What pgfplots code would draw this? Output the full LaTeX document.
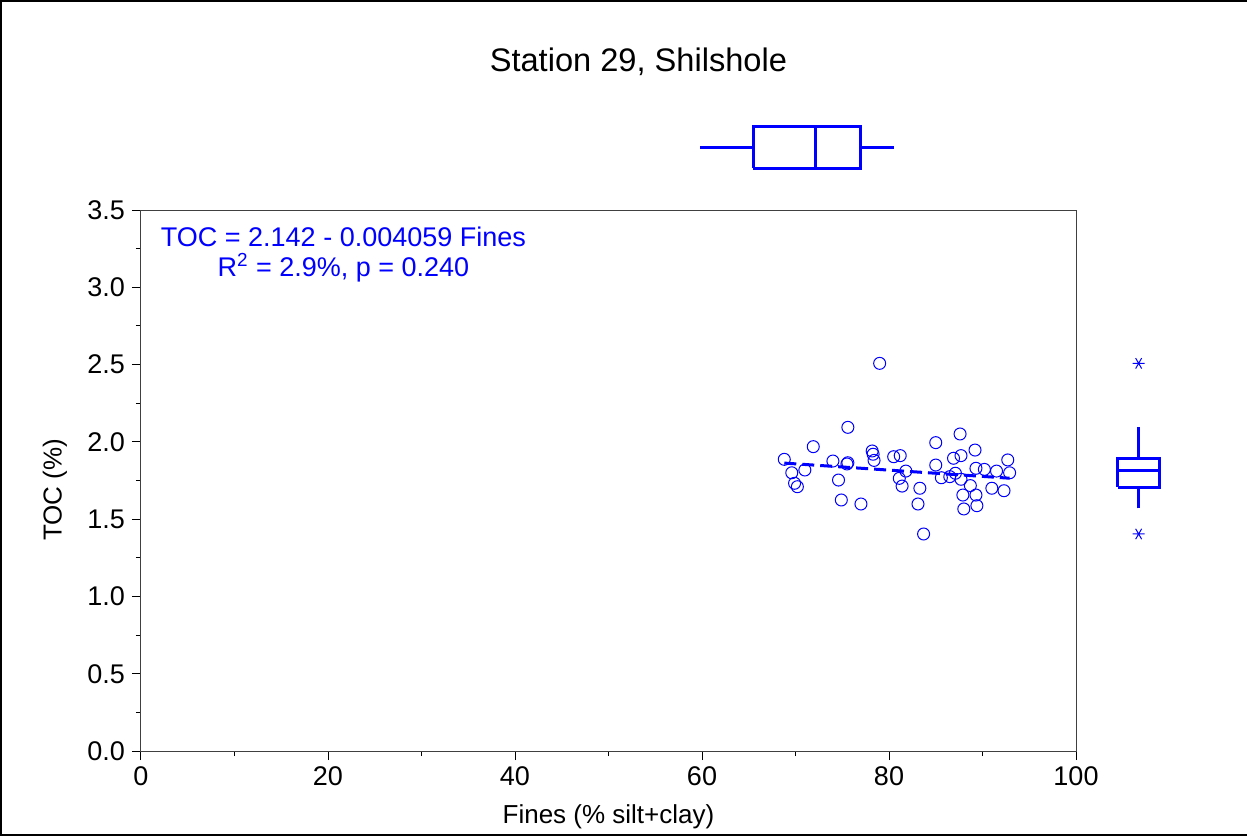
\documentclass[border=0pt]{standalone}
\usepackage{fontspec}
\setmainfont{Liberation Sans}
\usepackage{pgfplots}
\pgfplotsset{compat=1.18}
\definecolor{pblue}{RGB}{0,0,255}
\begin{document}
\begin{tikzpicture}
\useasboundingbox (-70.5pt,-43pt) rectangle (553pt,375.5pt);
\draw[line width=1pt] (553pt,374.75pt) -- (-69.75pt,374.75pt) -- (-69.75pt,-42pt) -- (553pt,-42pt);
\begin{axis}[
  scale only axis,
  width=467.5pt, height=270.5pt,
  xmin=0, xmax=100, ymin=0, ymax=3.5,
  clip=false,
  xtick={0,20,40,60,80,100},
  minor xtick={10,30,50,70,90},
  ytick={0,0.5,1,1.5,2,2.5,3,3.5},
  minor ytick={0.25,0.75,1.25,1.75,2.25,2.75,3.25},
  tick align=outside,
  xtick pos=bottom, ytick pos=left,
  major tick length=4.5pt, minor tick length=2.5pt,
  every tick/.style={black, line width=0.5pt},
  axis line style={line width=0.5pt, black!75},
  yticklabel style={/pgf/number format/.cd, fixed, fixed zerofill, precision=1},
  /pgf/number format/assume math mode=true,
  ticklabel style={font=\fontsize{13.5}{16}\selectfont},
  xlabel={Fines (\% silt+clay)},
  xlabel style={at={(rel axis cs:0.5,0)}, anchor=center, yshift=-33pt, font=\fontsize{13}{15}\selectfont},
]
% scatter
\addplot[only marks, mark=o, mark size=3pt, pblue, mark options={line width=0.5pt}] coordinates {
(79.0,2.508) (75.6,2.094) (71.9,1.969) (68.8,1.887) (69.6,1.800) (69.9,1.732)
(70.2,1.710) (71.0,1.818) (74.0,1.876) (75.5,1.857) (75.6,1.865) (74.6,1.753)
(74.9,1.624) (77.0,1.598) (78.2,1.941) (78.3,1.920) (78.4,1.880) (80.5,1.904)
(81.2,1.911) (81.8,1.811) (81.1,1.764) (81.4,1.714) (83.3,1.700) (83.1,1.598)
(83.7,1.404) (85.0,1.995) (85.0,1.850) (85.6,1.768) (86.5,1.775) (86.9,1.894)
(87.7,1.911) (87.6,2.051) (87.1,1.797) (87.7,1.758) (87.9,1.656) (88.0,1.566)
(88.7,1.717) (89.3,1.656) (89.4,1.587) (89.2,1.947) (89.3,1.829) (90.2,1.822)
(91.0,1.700) (91.5,1.811) (92.3,1.684) (92.7,1.883) (92.9,1.800)
};
% regression line
\addplot[pblue, line width=1.5pt, dash pattern=on 6pt off 3pt] coordinates {(68.8,1.8627) (92.9,1.7649)};
% top boxplot
\addplot[pblue, line width=1.5pt] coordinates {(59.79,3.904) (65.49,3.904)};
\addplot[pblue, line width=1.5pt] coordinates {(76.9,3.904) (80.53,3.904)};
\addplot[pblue, line width=1.5pt] coordinates {(65.49,3.770) (76.9,3.770) (76.9,4.039) (65.49,4.039) (65.49,3.770)};
\addplot[pblue, line width=1.5pt] coordinates {(72.19,3.770) (72.19,4.039)};
% right boxplot
\addplot[pblue, line width=1.5pt] coordinates {(106.7,1.894) (106.7,2.094)};
\addplot[pblue, line width=1.5pt] coordinates {(106.7,1.570) (106.7,1.706)};
\addplot[pblue, line width=1.5pt] coordinates {(104.49,1.706) (108.88,1.706) (108.88,1.894) (104.49,1.894) (104.49,1.706)};
\addplot[pblue, line width=1.5pt] coordinates {(104.49,1.813) (108.88,1.813)};
\addplot[only marks, mark=asterisk, mark size=3pt, pblue, mark options={line width=0.5pt, rotate=90}] coordinates {(106.7,2.508) (106.7,1.404)};
% texts
\node[font=\fontsize{16.3}{19}\selectfont] at (axis cs:53.2,4.457) {Station 29, Shilshole};
\node[pblue, font=\fontsize{13.5}{16}\selectfont] at (axis cs:21.65,3.325) {TOC = 2.142 - 0.004059 Fines};
\node[pblue, font=\fontsize{13.5}{16}\selectfont] at (axis cs:21.65,3.125) {R\textsuperscript{2} = 2.9\%, p = 0.240};
\node[rotate=90, font=\fontsize{13}{15}\selectfont] at (axis cs:-9.2,1.69) {TOC (\%)};
\end{axis}
\end{tikzpicture}
\end{document}
